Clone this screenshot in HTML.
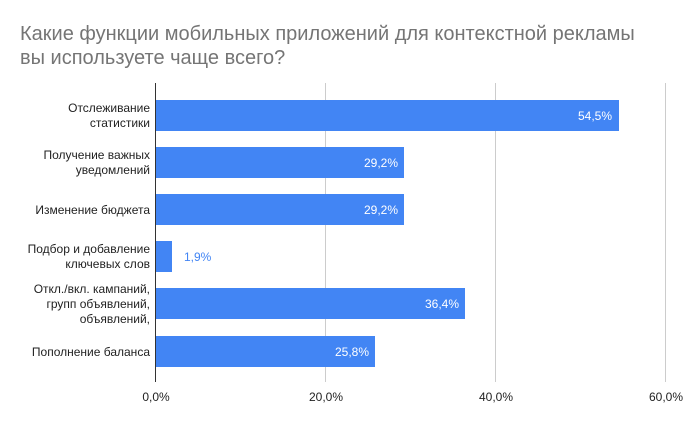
<!DOCTYPE html><html><head><meta charset="utf-8"><style>body{margin:0;background:#fff}svg{display:block}</style></head><body>
<svg width="686" height="424" xmlns="http://www.w3.org/2000/svg" font-family="Liberation Sans, sans-serif">
<rect width="686" height="424" fill="#fff"/>
<text x="20" y="40" font-size="20" fill="#757575">Какие функции мобильных приложений для контекстной рекламы</text>
<text x="20" y="64" font-size="20" fill="#757575">вы используете чаще всего?</text>
<g stroke="#ccc" stroke-width="1">
<line x1="325.5" y1="83" x2="325.5" y2="382"/><line x1="495.5" y1="83" x2="495.5" y2="382"/><line x1="665.5" y1="83" x2="665.5" y2="382"/>
</g>
<g fill="#4285f4">
<rect x="156" y="100" width="463" height="31"/>
<rect x="156" y="147" width="248" height="31"/>
<rect x="156" y="194" width="248" height="31"/>
<rect x="156" y="241" width="16" height="31"/>
<rect x="156" y="288" width="309" height="31"/>
<rect x="156" y="336" width="219" height="31"/>
</g>
<line x1="155.5" y1="83" x2="155.5" y2="382" stroke="#333"/>
<g font-size="12" fill="#fff" text-anchor="end">
<text x="612" y="120">54,5%</text><text x="398" y="167">29,2%</text><text x="398" y="214">29,2%</text><text x="459" y="308">36,4%</text><text x="369" y="356">25,8%</text>
</g>
<text x="184" y="261" font-size="12" fill="#4285f4">1,9%</text>
<g font-size="12" fill="#222" text-anchor="end">
<text x="150" y="112">Отслеживание</text><text x="150" y="127">статистики</text>
<text x="150" y="159">Получение важных</text><text x="150" y="174">уведомлений</text>
<text x="150" y="214">Изменение бюджета</text>
<text x="150" y="253">Подбор и добавление</text><text x="150" y="268">ключевых слов</text>
<text x="150" y="293">Откл./вкл. кампаний,</text><text x="150" y="308">групп объявлений,</text><text x="150" y="323">объявлений,</text>
<text x="150" y="356">Пополнение баланса</text>
</g>
<g font-size="12" fill="#222" text-anchor="middle">
<text x="156" y="401">0,0%</text><text x="326" y="401">20,0%</text><text x="496" y="401">40,0%</text><text x="666" y="401">60,0%</text>
</g>
</svg></body></html>
